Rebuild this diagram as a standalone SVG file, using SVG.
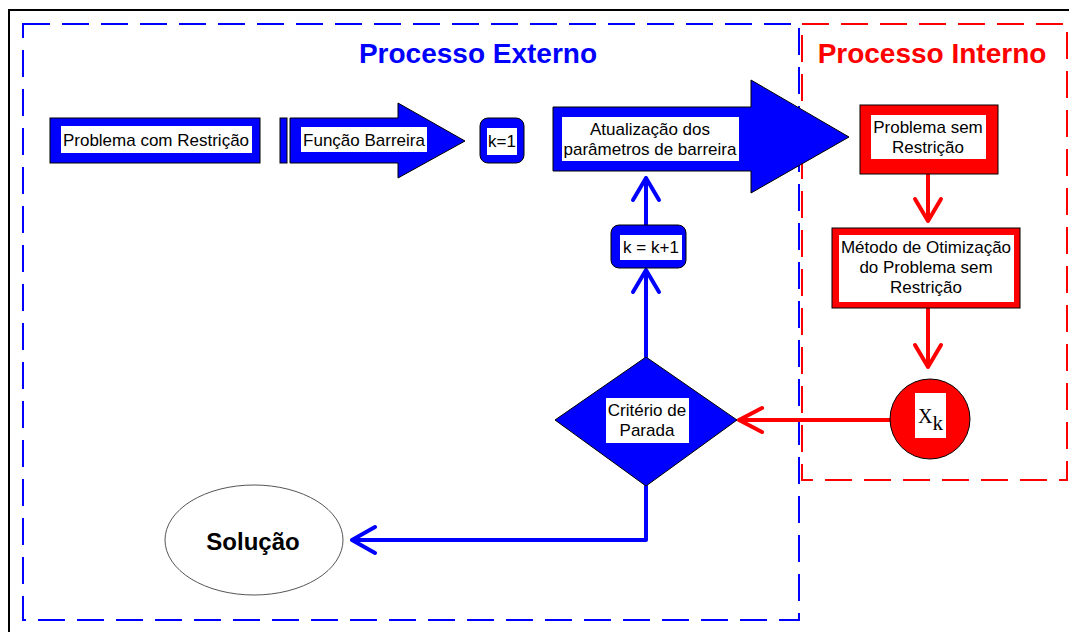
<svg xmlns="http://www.w3.org/2000/svg" width="1069" height="632" viewBox="0 0 1069 632">
<style>
.t{font-family:"Liberation Sans",Arial,sans-serif;font-size:17px;fill:#000;text-anchor:middle}
.title{font-family:"Liberation Sans",Arial,sans-serif;font-size:28px;font-weight:bold;text-anchor:middle}
.bl{fill:#0000FF;stroke:#000;stroke-width:1}
.rd{fill:#FF0000;stroke:#000;stroke-width:1}
.wh{fill:#fff;stroke:none}
.cb{fill:none;stroke:#0000FF;stroke-width:4;stroke-linecap:round;stroke-linejoin:round}
.cr{fill:none;stroke:#FF0000;stroke-width:4;stroke-linecap:round;stroke-linejoin:round}
</style>
<rect x="0" y="0" width="1069" height="632" fill="#fff"/>
<rect x="9" y="10" width="1090" height="640" fill="none" stroke="#000" stroke-width="2"/>
<g id="externo">
<rect x="23" y="24" width="776" height="596" fill="none" stroke="#0000FF" stroke-width="2" stroke-dasharray="27 12"/>
<text class="title" x="478" y="63" fill="#0000FF">Processo Externo</text>
</g>
<g id="interno">
<rect x="802" y="24" width="265" height="456" fill="none" stroke="#FF0000" stroke-width="2" stroke-dasharray="27 12"/>
<text class="title" x="932" y="63" fill="#FF0000">Processo Interno</text>
</g>
<g id="connectors">
<path class="cb" d="M646,357 L646,270 M633,292 L646,270 L659,292"/>
<path class="cb" d="M646,225 L646,178 M633,200 L646,178 L659,200"/>
<path class="cb" d="M646,486 L646,540 L352,540 M375,527 L352,540 L375,553"/>
<path class="cr" d="M928,174 L928,221 M915,199 L928,221 L941,199"/>
<path class="cr" d="M928,308 L928,367 M915,345 L928,367 L941,345"/>
<path class="cr" d="M890,420 L739,420 M762,408 L739,420 L762,432"/>
</g>
<g id="problema-com-restricao">
<rect class="bl" x="50" y="118" width="210" height="45"/>
<rect class="wh" x="61" y="126" width="191" height="27"/>
<text class="t" x="156" y="146">Problema com Restrição</text>
</g>
<g id="funcao-barreira">
<rect class="bl" x="280" y="118" width="7" height="45"/>
<path class="bl" d="M290,118 L398,118 L398,103 L465,141 L398,178 L398,163 L290,163 Z"/>
<rect class="wh" x="301" y="127" width="126" height="25"/>
<text class="t" x="364" y="146">Função Barreira</text>
</g>
<g id="k1">
<rect class="bl" x="480" y="118" width="44" height="45" rx="8"/>
<rect class="wh" x="487" y="128" width="30" height="27"/>
<text class="t" x="502" y="147">k=1</text>
</g>
<g id="atualizacao">
<path class="bl" d="M553,107 L751,107 L751,80 L849,137 L751,193 L751,171 L553,171 Z"/>
<rect class="wh" x="562" y="117" width="177" height="44"/>
<text class="t" x="650" y="135">Atualização dos</text>
<text class="t" x="650" y="155">parâmetros de barreira</text>
</g>
<g id="kk1">
<rect class="bl" x="611" y="225" width="75" height="43" rx="8"/>
<rect class="wh" x="620" y="235" width="62" height="25"/>
<text class="t" x="651" y="253">k = k+1</text>
</g>
<g id="criterio">
<polygon class="bl" points="555,420 646,357 737,420 646,486"/>
<rect class="wh" x="606" y="398" width="83" height="45"/>
<text class="t" x="647" y="416">Critério de</text>
<text class="t" x="647" y="436">Parada</text>
</g>
<g id="problema-sem-restricao">
<rect class="rd" x="860" y="105" width="138" height="69"/>
<rect class="wh" x="871" y="115" width="115" height="44"/>
<text class="t" x="928" y="133">Problema sem</text>
<text class="t" x="928" y="153">Restrição</text>
</g>
<g id="metodo">
<rect class="rd" x="832" y="228" width="188" height="80"/>
<rect class="wh" x="839" y="235" width="175" height="67"/>
<text class="t" x="926" y="253">Método de Otimização</text>
<text class="t" x="926" y="273">do Problema sem</text>
<text class="t" x="926" y="293">Restrição</text>
</g>
<g id="xk">
<circle class="rd" cx="930" cy="419" r="40"/>
<rect class="wh" x="915" y="393" width="31" height="45"/>
<text x="918" y="423" font-family="'Liberation Serif','Times New Roman',serif" font-size="20" fill="#000">X<tspan font-size="21" dy="7">k</tspan></text>
</g>
<g id="solucao">
<ellipse cx="254" cy="540" rx="89" ry="55" fill="#fff" stroke="#555" stroke-width="1"/>
<text x="253" y="550" font-family="'Liberation Sans',Arial,sans-serif" font-size="24" font-weight="bold" text-anchor="middle" fill="#000">Solução</text>
</g>
</svg>
